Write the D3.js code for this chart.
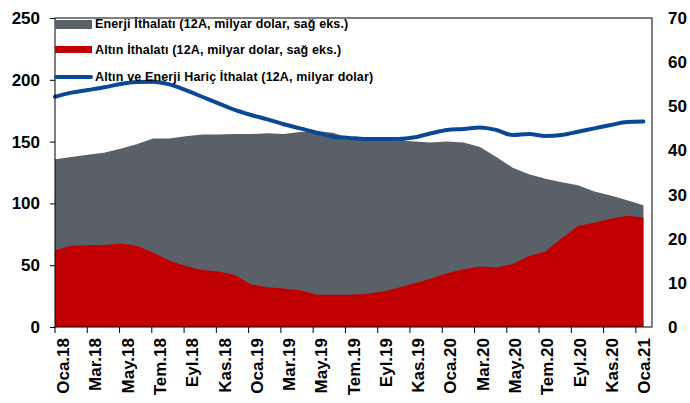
<!DOCTYPE html>
<html>
<head>
<meta charset="utf-8">
<script src="https://cdn.jsdelivr.net/npm/d3@7"></script>
<style>
    body { margin: 0; background: #fff; }
    svg { display: block; font-family: "Liberation Sans", Arial, sans-serif; }
    .axis text { font-size: 17px; font-weight: bold; fill: #000; }
    .axis path, .axis line { stroke: #000; }
    .legend text { font-size: 12.5px; font-weight: bold; fill: #000; letter-spacing: 0.15px; }
</style>
</head>
<body>
<div id="chart"></div>
<script>
// Data (12-month rolling, billion USD)
const categories = [
    "Oca.18","Şub.18","Mar.18","Nis.18","May.18","Haz.18","Tem.18","Ağu.18","Eyl.18","Eki.18","Kas.18","Ara.18",
    "Oca.19","Şub.19","Mar.19","Nis.19","May.19","Haz.19","Tem.19","Ağu.19","Eyl.19","Eki.19","Kas.19","Ara.19",
    "Oca.20","Şub.20","Mar.20","Nis.20","May.20","Haz.20","Tem.20","Ağu.20","Eyl.20","Eki.20","Kas.20","Ara.20",
    "Oca.21"
];
// energy imports, right axis
const energy = [
    38.0, 38.5, 39.0, 39.5, 40.4, 41.4, 42.7, 42.7, 43.2, 43.6, 43.6, 43.7,
    43.7, 43.9, 43.7, 44.2, 44.4, 44.0, 42.8, 42.5, 42.4, 42.3, 42.0, 41.8,
    42.0, 41.8, 40.8, 38.5, 36.1, 34.6, 33.6, 32.8, 32.1, 30.7, 29.8, 28.7,
    27.6
];
// gold imports, right axis
const gold = [
    17.4, 18.4, 18.5, 18.6, 18.9, 18.4, 16.9, 15.0, 13.8, 12.9, 12.6, 11.8,
    9.6, 9.0, 8.7, 8.3, 7.3, 7.3, 7.3, 7.5, 8.0, 8.9, 9.9, 11.0,
    12.2, 13.1, 13.7, 13.5, 14.3, 16.1, 17.1, 20.1, 22.9, 23.6, 24.5, 25.2,
    24.8
];
// imports excluding gold and energy, left axis
const other = [
    186.3, 189.6, 191.7, 193.9, 196.6, 198.2, 198.5, 196.3, 191.7, 186.3, 181.0, 175.6,
    171.5, 168.0, 164.0, 160.7, 157.2, 154.0, 153.0, 152.1, 152.1, 152.1, 153.5, 156.7,
    159.4, 160.2, 161.5, 159.4, 155.3, 156.1, 154.5, 155.3, 158.0, 160.7, 163.4, 165.9,
    166.2
];
const leftTicks = [0, 50, 100, 150, 200, 250];
const rightTicks = [0, 10, 20, 30, 40, 50, 60, 70];
const legendLabels = [
    "Enerji İthalatı (12A, milyar dolar, sağ eks.)",
    "Altın İthalatı (12A, milyar dolar, sağ eks.)",
    "Altın ve Enerji Hariç İthalat (12A, milyar dolar)"
];
const colors = ["#596068", "#c00000", "#0a4896"];

const margin = { top: 18, right: 38, bottom: 76, left: 55 };
const svgWidth = 690, svgHeight = 403;
const width = svgWidth - margin.left - margin.right;
const height = svgHeight - margin.top - margin.bottom;

const svg = d3.select("#chart").append("svg")
    .attr("width", svgWidth)
    .attr("height", svgHeight);
const g = svg.append("g").attr("transform", `translate(${margin.left},${margin.top})`);

// scales
const xBand = d3.scaleBand().domain(categories).range([0, width]);
const x = d3.scalePoint().domain(categories).range([0, width - xBand.bandwidth() / 2 - 0.5]);
const yL = d3.scaleLinear().domain([0, 250]).range([height, 0]);
const yR = d3.scaleLinear().domain([0, 70]).range([height, 0]);

// areas (right axis)
const areaR = function(values) {
    return d3.area()
        .x(function(d, i) { return x(categories[i]) })
        .y0(height)
        .y1(function(d) { return yR(d) })(values);
};
g.append("path").attr("d", areaR(energy)).attr("fill", colors[0]);
g.append("path").attr("d", areaR(gold)).attr("fill", colors[1]);

// line (left axis)
const line = d3.line()
    .curve(d3.curveMonotoneX)
    .x(function(d, i) { return x(categories[i]) })
    .y(function(d) { return yL(d) });
g.append("path")
    .attr("d", line(other))
    .attr("fill", "none")
    .attr("stroke", colors[2])
    .attr("stroke-width", 4)
    .attr("stroke-linecap", "round");

// frame
g.append("rect")
    .attr("width", width).attr("height", height)
    .attr("fill", "none").attr("stroke", "#000").attr("stroke-width", 1);

// left axis
g.append("g").attr("class", "axis")
    .call(d3.axisLeft(yL).tickValues(leftTicks).tickSize(5).tickPadding(10))
    .call(function(s) { s.select(".domain").remove(); });

// right axis
g.append("g").attr("class", "axis")
    .attr("transform", `translate(${width},0)`)
    .call(d3.axisRight(yR).tickValues(rightTicks).tickSize(0).tickPadding(16))
    .call(function(s) { s.select(".domain").remove(); });

// bottom axis: ticks on category boundaries, labels in the middle
const shown = categories.filter(function(d, i) { return i % 2 === 0 });
const xAxis = g.append("g").attr("class", "axis")
    .attr("transform", `translate(0,${height})`)
    .call(d3.axisBottom(xBand).tickValues(shown).tickSize(6).tickSizeOuter(0));
xAxis.select(".domain").remove();
xAxis.selectAll(".tick line")
    .attr("x1", -xBand.bandwidth() / 2)
    .attr("x2", -xBand.bandwidth() / 2);
xAxis.selectAll(".tick text")
    .attr("transform", "rotate(-90)")
    .attr("text-anchor", "end")
    .attr("x", -11)
    .attr("y", 0)
    .attr("dy", "0.36em");

// legend
const legend = g.append("g").attr("class", "legend");
legendLabels.forEach(function(label, i) {
    const cy = [6, 32, 59][i];
    if (i < 2) {
        legend.append("rect")
            .attr("x", 0).attr("y", cy - 4)
            .attr("width", 37).attr("height", i === 0 ? 9 : 7)
            .attr("fill", colors[i]);
    } else {
        legend.append("line")
            .attr("x1", 1).attr("x2", 36)
            .attr("y1", cy).attr("y2", cy)
            .attr("stroke", colors[i]).attr("stroke-width", 4)
            .attr("stroke-linecap", "round");
    }
    legend.append("text")
        .attr("x", 40).attr("y", cy)
        .attr("dy", "0.35em")
        .text(label);
});
</script>
</body>
</html>
